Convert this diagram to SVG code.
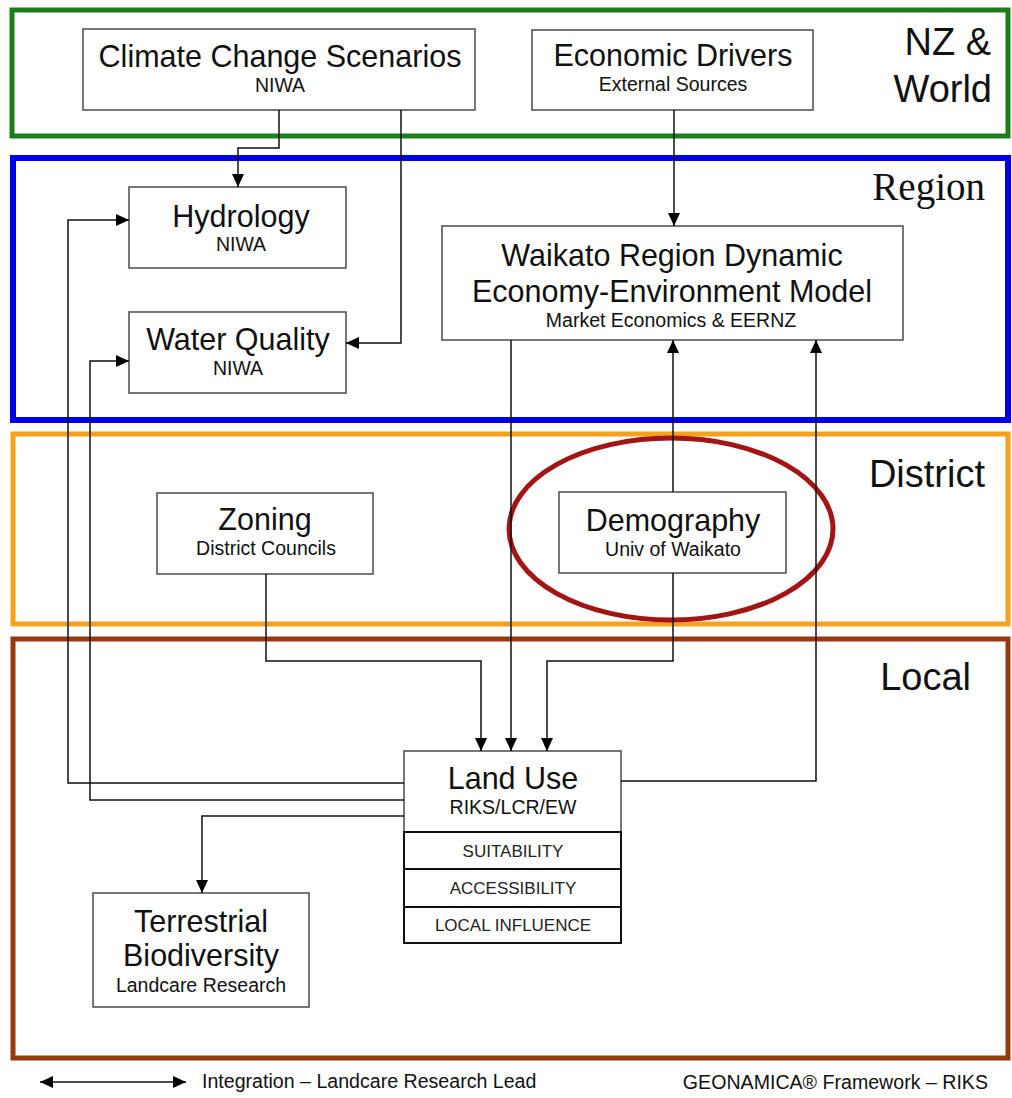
<svg xmlns="http://www.w3.org/2000/svg" width="1012" height="1098" viewBox="0 0 1012 1098">
<style>
.zone{fill:none}
.box{fill:#fff;stroke:#555;stroke-width:1.6}
.sub{fill:#fff;stroke:#111;stroke-width:2}
.t{font-family:"Liberation Sans",Arial,sans-serif;fill:#111;text-anchor:middle}
.big{font-size:30.5px}
.sm{font-size:19.5px}
.xs{font-size:17px;fill:#222}
.zl{font-family:"Liberation Sans",Arial,sans-serif;font-size:38px;fill:#111;text-anchor:end}
.conn path{fill:none;stroke:#111;stroke-width:1.5}
.leg{font-family:"Liberation Sans",Arial,sans-serif;font-size:19.6px;fill:#111}
</style>
<defs>
<marker id="ah" markerUnits="userSpaceOnUse" markerWidth="14" markerHeight="12" refX="13" refY="6" orient="auto-start-reverse">
<path d="M0,0 L13,6 L0,12 z" fill="#000"/>
</marker>
</defs>
<rect width="1012" height="1098" fill="#fff"/>
<g id="zones">
<rect class="zone" x="12" y="10" width="996" height="126" stroke="#198019" stroke-width="5"/>
<rect class="zone" x="13" y="158" width="995" height="262" stroke="#0000e6" stroke-width="6"/>
<rect class="zone" x="13" y="434" width="995" height="190" stroke="#f5a11c" stroke-width="5"/>
<rect class="zone" x="13" y="639" width="995" height="419" stroke="#963a0e" stroke-width="5"/>
<text class="zl" x="991" y="55">NZ &amp;</text>
<text class="zl" x="992" y="102">World</text>
<text x="985" y="200" style="font-family:'Liberation Serif','Times New Roman',serif;font-size:39px;fill:#111;text-anchor:end">Region</text>
<text class="zl" x="985" y="487">District</text>
<text class="zl" x="971" y="690">Local</text>
</g>
<g id="climate">
<rect class="box" x="83" y="29" width="392" height="81"/>
<text class="t big" x="280" y="67">Climate Change Scenarios</text>
<text class="t sm" x="280" y="92">NIWA</text>
</g>
<g id="economic">
<rect class="box" x="532" y="30" width="281" height="80"/>
<text class="t big" x="673" y="66">Economic Drivers</text>
<text class="t sm" x="673" y="91">External Sources</text>
</g>
<g id="hydrology">
<rect class="box" x="129" y="187" width="217" height="81"/>
<text class="t big" x="241" y="227">Hydrology</text>
<text class="t sm" x="241" y="251">NIWA</text>
</g>
<g id="waterquality">
<rect class="box" x="129" y="312" width="217" height="81"/>
<text class="t big" x="238" y="350">Water Quality</text>
<text class="t sm" x="238" y="375">NIWA</text>
</g>
<g id="waikato">
<rect class="box" x="442" y="226" width="461" height="114"/>
<text class="t big" x="672" y="266">Waikato Region Dynamic</text>
<text class="t big" x="672" y="302">Economy-Environment Model</text>
<text class="t sm" x="671" y="327">Market Economics &amp; EERNZ</text>
</g>
<g id="zoning">
<rect class="box" x="157" y="493" width="216" height="81"/>
<text class="t big" x="265" y="530">Zoning</text>
<text class="t sm" x="266" y="555">District Councils</text>
</g>
<g id="demography">
<ellipse cx="671" cy="529" rx="162" ry="91" fill="none" stroke="#a31515" stroke-width="5"/>
<rect class="box" x="559" y="492" width="227" height="81"/>
<text class="t big" x="673" y="531">Demography</text>
<text class="t sm" x="673" y="556">Univ of Waikato</text>
</g>
<g id="landuse">
<rect class="box" x="404" y="751" width="217" height="81"/>
<text class="t big" x="513" y="789">Land Use</text>
<text class="t sm" x="513" y="814">RIKS/LCR/EW</text>
<rect class="sub" x="404" y="832" width="217" height="37"/>
<text class="t xs" x="513" y="857">SUITABILITY</text>
<rect class="sub" x="404" y="869" width="217" height="38"/>
<text class="t xs" x="513" y="894">ACCESSIBILITY</text>
<rect class="sub" x="404" y="907" width="217" height="36"/>
<text class="t xs" x="513" y="931">LOCAL INFLUENCE</text>
</g>
<g id="terrestrial">
<rect class="box" x="93" y="893" width="216" height="114"/>
<text class="t big" x="201" y="932">Terrestrial</text>
<text class="t big" x="201" y="966">Biodiversity</text>
<text class="t sm" x="201" y="992">Landcare Research</text>
</g>
<g id="connectors" class="conn">
<path d="M279,110 V148 H238 V187" marker-end="url(#ah)"/>
<path d="M401,110 V343 H346" marker-end="url(#ah)"/>
<path d="M674,110 V226" marker-end="url(#ah)"/>
<path d="M511,340 V751" marker-end="url(#ah)"/>
<path d="M673,492 V340" marker-end="url(#ah)"/>
<path d="M673,573 V661 H547 V751" marker-end="url(#ah)"/>
<path d="M266,574 V661 H481 V751" marker-end="url(#ah)"/>
<path d="M404,783 H68 V220 H129" marker-end="url(#ah)"/>
<path d="M404,800 H90 V361 H129" marker-end="url(#ah)"/>
<path d="M404,816 H202 V893" marker-end="url(#ah)"/>
<path d="M621,781 H816 V340" marker-end="url(#ah)"/>
</g>
<g id="legend">
<path d="M40,1082 H186" fill="none" stroke="#111" stroke-width="1.5" marker-start="url(#ah)" marker-end="url(#ah)"/>
<text class="leg" x="202" y="1088">Integration – Landcare Research Lead</text>
<text class="leg" x="988" y="1089" text-anchor="end">GEONAMICA® Framework – RIKS</text>
</g>
</svg>
